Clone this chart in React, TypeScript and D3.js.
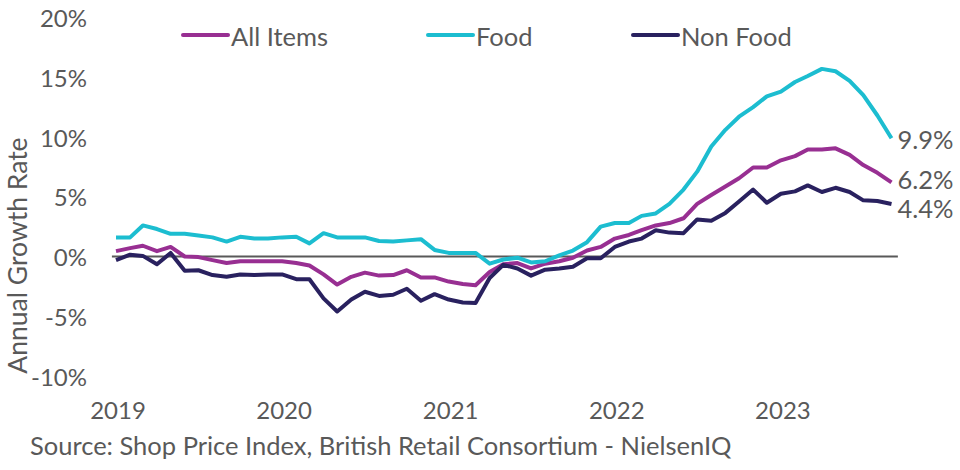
import React from 'react';
import * as d3 from 'd3';

// Monthly BRC Shop Price Index, Jan 2019 - Sep 2023 (annual % change)
const startMonth = new Date(2019, 0, 1);
const endMonth = new Date(2023, 8, 1);

const allItems = [
  0.45, 0.7, 0.9, 0.45, 0.8, 0.0, -0.05, -0.3, -0.55, -0.4, -0.4, -0.4,
  -0.4, -0.55, -0.75, -1.5, -2.35, -1.7, -1.35, -1.6, -1.55, -1.15, -1.75, -1.75,
  -2.1, -2.3, -2.4, -1.3, -0.65, -0.55, -1.0, -0.6, -0.4, -0.1, 0.5, 0.8,
  1.5, 1.8, 2.2, 2.6, 2.8, 3.2, 4.4, 5.15, 5.85, 6.55, 7.45, 7.45,
  8.05, 8.4, 8.95, 8.95, 9.05, 8.5, 7.65, 7.0, 6.2,
];

const food = [
  1.6, 1.6, 2.6, 2.3, 1.9, 1.9, 1.75, 1.6, 1.25, 1.65, 1.5, 1.5,
  1.6, 1.65, 1.1, 1.95, 1.6, 1.6, 1.6, 1.3, 1.25, 1.35, 1.45, 0.55,
  0.3, 0.3, 0.3, -0.6, -0.25, -0.1, -0.5, -0.4, 0.1, 0.5, 1.2, 2.5,
  2.8, 2.8, 3.4, 3.6, 4.4, 5.6, 7.1, 9.2, 10.6, 11.7, 12.5, 13.4,
  13.8, 14.6, 15.1, 15.7, 15.5, 14.7, 13.5, 11.8, 9.9,
];

const nonFood = [
  -0.3, 0.15, 0.05, -0.65, 0.3, -1.2, -1.15, -1.55, -1.7, -1.5, -1.55, -1.5,
  -1.5, -1.9, -1.9, -3.5, -4.6, -3.6, -2.95, -3.3, -3.2, -2.7, -3.7, -3.15,
  -3.6, -3.85, -3.9, -1.8, -0.7, -1.0, -1.6, -1.1, -1.0, -0.85, -0.15, -0.15,
  0.8, 1.25, 1.5, 2.2, 2.0, 1.95, 3.1, 3.0, 3.65, 4.6, 5.6, 4.5,
  5.25, 5.45, 5.95, 5.4, 5.75, 5.4, 4.7, 4.65, 4.4,
];

const yTicks = [-10, -5, 0, 5, 10, 15, 20];
const yearTicks = [2019, 2020, 2021, 2022, 2023];

const series = [
  { name: 'All Items', values: allItems, color: '#982f92', end: '6.2%' },
  { name: 'Food', values: food, color: '#1cbdd0', end: '9.9%' },
  { name: 'Non Food', values: nonFood, color: '#29215f', end: '4.4%' },
];

const width = 960;
const height = 470;
const font = 'Lato, "Open Sans", sans-serif';
const textColor = '#595959';

export default function App() {
  const months = d3.timeMonth.range(startMonth, d3.timeMonth.offset(endMonth, 1));

  const xScale = d3.scaleTime().domain([startMonth, endMonth]).range([116, 891.5]);
  const yScale = d3.scaleLinear().domain([-10, 20]).range([376, 17.5]);

  const lineGenerator = d3
    .line<number>()
    .x((_, i) => xScale(months[i]))
    .y((d) => yScale(d));

  const zeroStart = xScale(d3.timeDay.offset(startMonth, -9));
  const zeroEnd = xScale(d3.timeDay.offset(endMonth, 14));

  // legend anchor positions
  const legendX = [183, 428, 633];
  const legendY = 35;

  // end labels, nudged apart so 6.2% and 4.4% do not collide
  const endLabelY = [179, 139, 208];

  return (
    <svg
      width={width}
      height={height}
      style={{ position: 'absolute', left: 0, top: 0, background: '#fff' }}
      fontFamily={font}
    >
      {/* y axis labels */}
      {yTicks.map((t) => (
        <text
          key={t}
          x={87}
          y={yScale(t)}
          textAnchor="end"
          dominantBaseline="central"
          fontSize={24}
          fill={textColor}
        >
          {`${t}%`}
        </text>
      ))}

      {/* y axis title */}
      <text
        transform={`translate(17, ${yScale(0) - 1}) rotate(-90)`}
        textAnchor="middle"
        dominantBaseline="central"
        fontSize={26.5}
        fill={textColor}
      >
        Annual Growth Rate
      </text>

      {/* zero line */}
      <line
        x1={zeroStart}
        x2={zeroEnd}
        y1={yScale(0)}
        y2={yScale(0)}
        stroke="#595959"
        strokeWidth={2}
      />

      {/* x axis year labels */}
      {yearTicks.map((yr) => (
        <text
          key={yr}
          x={xScale(new Date(yr, 0, 1)) + 2}
          y={419}
          textAnchor="middle"
          fontSize={24}
          fill={textColor}
        >
          {yr}
        </text>
      ))}

      {/* series lines */}
      {series.map((s) => (
        <path
          key={s.name}
          d={lineGenerator(s.values) || ''}
          fill="none"
          stroke={s.color}
          strokeWidth={4}
          strokeLinejoin="round"
        />
      ))}

      {/* end labels */}
      {series.map((s, i) => (
        <text
          key={s.name}
          x={xScale(endMonth) + 6}
          y={endLabelY[i]}
          dominantBaseline="central"
          fontSize={25.5}
          fill={textColor}
        >
          {s.end}
        </text>
      ))}

      {/* legend */}
      {series.map((s, i) => (
        <g key={s.name} transform={`translate(${legendX[i]}, ${legendY})`}>
          <line x1={0} x2={45} y1={0} y2={0} stroke={s.color} strokeWidth={4} strokeLinecap="round" />
          <text x={48} y={1} dominantBaseline="central" fontSize={25.5} fill={textColor}>
            {s.name}
          </text>
        </g>
      ))}

      {/* source */}
      <text x={30} y={455} fontSize={25.5} fill={textColor}>
        Source: Shop Price Index, British Retail Consortium - NielsenIQ
      </text>
    </svg>
  );
}
